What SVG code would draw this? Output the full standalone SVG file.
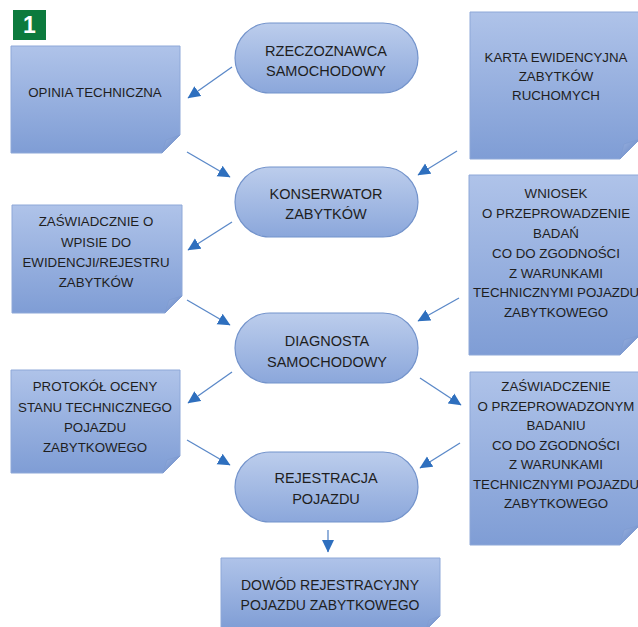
<svg xmlns="http://www.w3.org/2000/svg" width="638" height="627" viewBox="0 0 638 627">
<defs>
<linearGradient id="gBox" x1="0" y1="0" x2="0" y2="1">
<stop offset="0" stop-color="#afc3e9"/>
<stop offset="1" stop-color="#7f9dd5"/>
</linearGradient>
<linearGradient id="gPill" x1="0" y1="0" x2="0" y2="1">
<stop offset="0" stop-color="#bccdec"/>
<stop offset="1" stop-color="#8ba7db"/>
</linearGradient>
<linearGradient id="gFold" x1="0" y1="0" x2="1" y2="1">
<stop offset="0" stop-color="#9fb5e2"/>
<stop offset="1" stop-color="#5b7fc0"/>
</linearGradient>
<marker id="ah" markerUnits="userSpaceOnUse" markerWidth="13" markerHeight="13" viewBox="0 0 13 13" refX="12" refY="6.5" orient="auto">
<path d="M0,0.5 L12.5,6.5 L0,12.5 Z" fill="#2e6fbe"/>
</marker>
</defs>
<style>
.box{fill:url(#gBox);stroke:#8ea8d8;stroke-width:1}
.fold{fill:url(#gFold);stroke:#7d9ad0;stroke-width:0.6}
.pill{fill:url(#gPill);stroke:#7393cb;stroke-width:1.2}
.t{font-family:"Liberation Sans",Arial,sans-serif;font-size:13.3px;fill:#1e1e1e;text-anchor:middle}
.tp{font-family:"Liberation Sans",Arial,sans-serif;font-size:14.5px;fill:#1e1e1e;text-anchor:middle}
.c{stroke:#5a88c8;stroke-width:1.3;fill:none;marker-end:url(#ah)}
</style>
<rect width="638" height="627" fill="#ffffff"/>

<g id="badge">
<rect x="13" y="10" width="33" height="30" fill="#0c7a3d"/>
<text x="29.5" y="33" font-family="Liberation Sans,Arial,sans-serif" font-weight="bold" font-size="23" fill="#ffffff" text-anchor="middle">1</text>
</g>

<g id="opinia">
<path class="box" d="M11 46 H180 V135 L162 153 H11 Z"/>
<path class="fold" d="M162 153 L180 135 L166 140 Z"/>
<text class="t" x="95" y="96.5">OPINIA TECHNICZNA</text>
</g>

<g id="rzeczoznawca">
<rect class="pill" x="235" y="23" width="183" height="70" rx="35" ry="35"/>
<text class="tp" x="326" y="56">RZECZOZNAWCA</text>
<text class="tp" x="326" y="75.5">SAMOCHODOWY</text>
</g>

<g id="karta">
<path class="box" d="M470 12 H640 V139 L620 159 H470 Z"/>
<path class="fold" d="M620 159 L640 139 L624 144 Z"/>
<text class="t" x="556" y="62">KARTA EWIDENCYJNA</text>
<text class="t" x="556" y="81">ZABYTKÓW</text>
<text class="t" x="556" y="100">RUCHOMYCH</text>
</g>

<g id="konserwator">
<rect class="pill" x="235" y="167" width="183" height="70" rx="35" ry="35"/>
<text class="tp" x="326" y="199">KONSERWATOR</text>
<text class="tp" x="326" y="219">ZABYTKÓW</text>
</g>

<g id="zaswiadcznie">
<path class="box" d="M12 205 H182 V296 L165 313 H12 Z"/>
<path class="fold" d="M165 313 L182 296 L169 300 Z"/>
<text class="t" x="96" y="226">ZAŚWIADCZNIE O</text>
<text class="t" x="96" y="246.5">WPISIE DO</text>
<text class="t" x="96" y="267">EWIDENCJI/REJESTRU</text>
<text class="t" x="96" y="287">ZABYTKÓW</text>
</g>

<g id="wniosek">
<path class="box" d="M469 175 H640 V335 L620 355 H469 Z"/>
<path class="fold" d="M620 355 L640 335 L624 340 Z"/>
<text class="t" x="556" y="198">WNIOSEK</text>
<text class="t" x="556" y="217.5">O PRZEPROWADZENIE</text>
<text class="t" x="556" y="237.5">BADAŃ</text>
<text class="t" x="556" y="257.5">CO DO ZGODNOŚCI</text>
<text class="t" x="556" y="277.5">Z WARUNKAMI</text>
<text class="t" x="556" y="297">TECHNICZNYMI POJAZDU</text>
<text class="t" x="556" y="317">ZABYTKOWEGO</text>
</g>

<g id="diagnosta">
<rect class="pill" x="235" y="313" width="183" height="70" rx="35" ry="35"/>
<text class="tp" x="327" y="346">DIAGNOSTA</text>
<text class="tp" x="327" y="367">SAMOCHODOWY</text>
</g>

<g id="protokol">
<path class="box" d="M11 370 H180 V456 L163 473 H11 Z"/>
<path class="fold" d="M163 473 L180 456 L167 460 Z"/>
<text class="t" x="95" y="391">PROTOKÓŁ OCENY</text>
<text class="t" x="95" y="412">STANU TECHNICZNEGO</text>
<text class="t" x="95" y="432">POJAZDU</text>
<text class="t" x="95" y="452">ZABYTKOWEGO</text>
</g>

<g id="zaswiadczenie">
<path class="box" d="M470 372 H640 V525 L620 545 H470 Z"/>
<path class="fold" d="M620 545 L640 525 L624 530 Z"/>
<text class="t" x="556" y="391">ZAŚWIADCZENIE</text>
<text class="t" x="556" y="410.5">O PRZEPROWADZONYM</text>
<text class="t" x="556" y="430">BADANIU</text>
<text class="t" x="556" y="449.5">CO DO ZGODNOŚCI</text>
<text class="t" x="556" y="469">Z WARUNKAMI</text>
<text class="t" x="556" y="488.5">TECHNICZNYMI POJAZDU</text>
<text class="t" x="556" y="508">ZABYTKOWEGO</text>
</g>

<g id="rejestracja">
<rect class="pill" x="235" y="452" width="183" height="70" rx="35" ry="35"/>
<text class="tp" x="326" y="482.5">REJESTRACJA</text>
<text class="tp" x="326" y="503.5">POJAZDU</text>
</g>

<g id="dowod">
<path class="box" d="M221 558 H440 V616 L426 630 H221 Z"/>
<path class="fold" d="M426 630 L440 616 L429 620 Z"/>
<text class="t" x="330" y="590" style="font-size:14px">DOWÓD REJESTRACYJNY</text>
<text class="t" x="330" y="609.5" style="font-size:14px">POJAZDU ZABYTKOWEGO</text>
</g>

<g id="connectors">
<line class="c" x1="232" y1="67" x2="188" y2="98"/>
<line class="c" x1="187" y1="152" x2="230" y2="177"/>
<line class="c" x1="457" y1="151" x2="418" y2="175"/>
<line class="c" x1="232" y1="222" x2="188" y2="250"/>
<line class="c" x1="187" y1="300" x2="230" y2="325"/>
<line class="c" x1="459" y1="298" x2="418" y2="321"/>
<line class="c" x1="232" y1="372" x2="188" y2="403"/>
<line class="c" x1="420" y1="378" x2="461" y2="405"/>
<line class="c" x1="187" y1="440" x2="230" y2="465"/>
<line class="c" x1="460" y1="443" x2="420" y2="468"/>
<line class="c" x1="328" y1="530" x2="328" y2="552"/>
</g>
</svg>
